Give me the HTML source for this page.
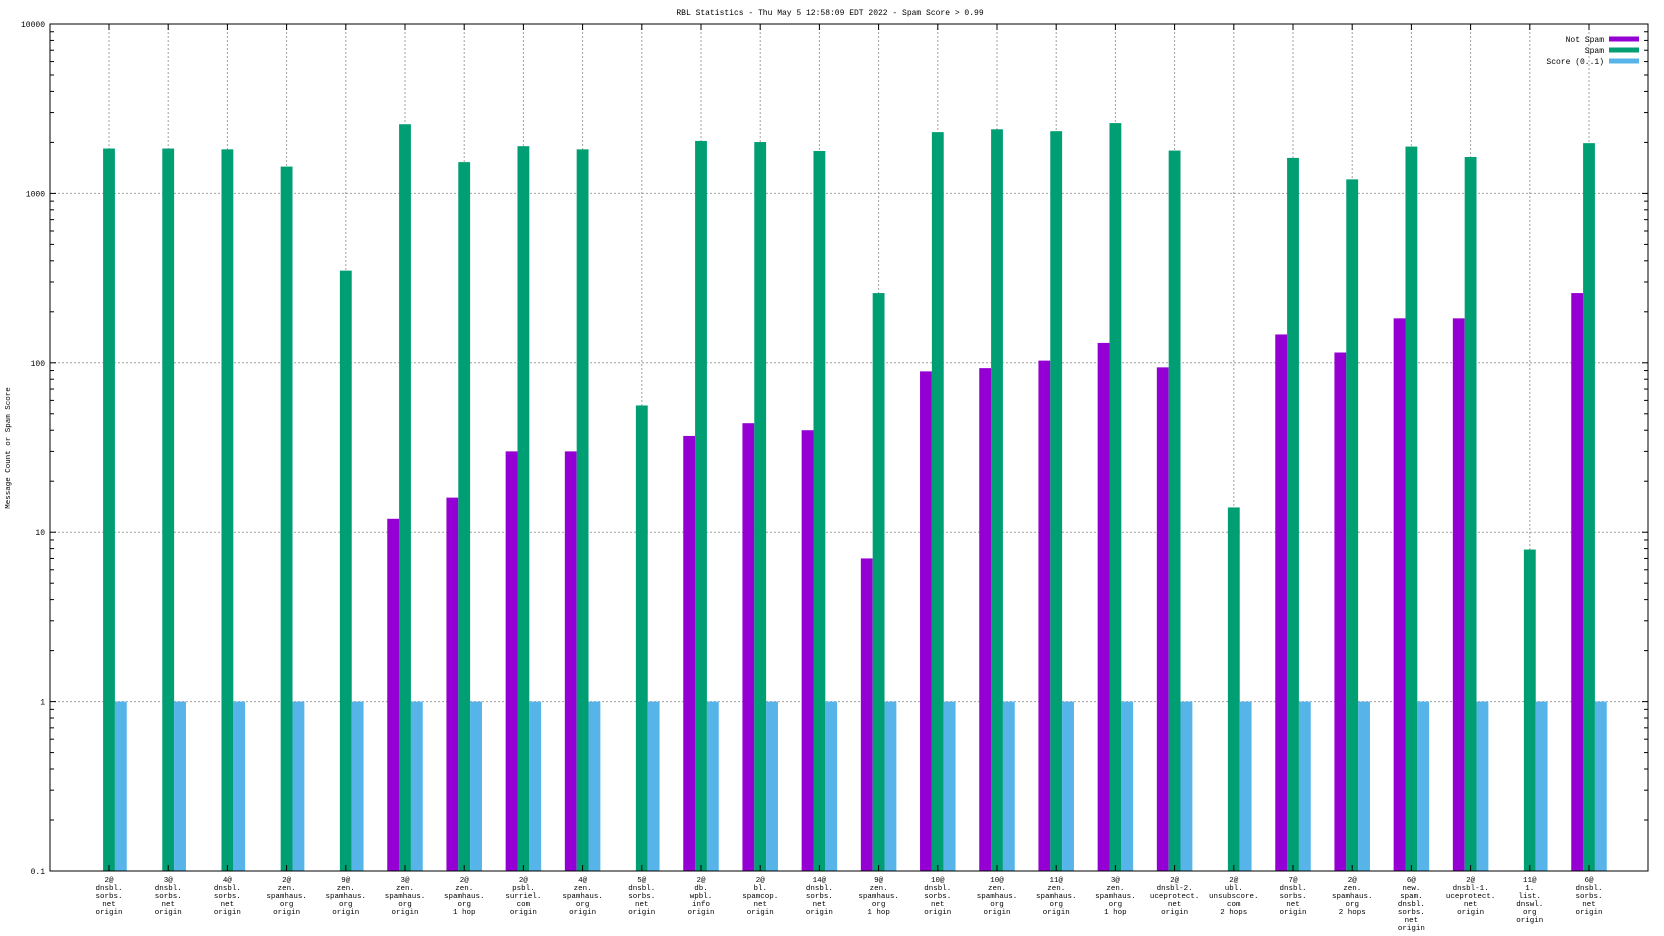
<!DOCTYPE html>
<html><head><meta charset="utf-8"><style>
html,body{margin:0;padding:0;background:#fff;}
svg{display:block;font-family:"Liberation Mono","DejaVu Sans Mono",monospace;}
</style></head><body>
<svg id="chart" width="1664" height="936" viewBox="0 0 1664 936" xmlns="http://www.w3.org/2000/svg">
<text x="830" y="15" font-size="8" text-anchor="middle">RBL Statistics - Thu May  5 12:58:09 EDT 2022 - Spam Score &gt; 0.99</text>
<text transform="translate(10,448) rotate(-90)" font-size="7.5" text-anchor="middle">Message Count or Spam Score</text>
<g id="grid"></g><g id="bars"></g><g id="axes"></g><g id="legend"></g>
</svg>
<script>
const categories = [
 ["2@","dnsbl.","sorbs.","net","origin"],["3@","dnsbl.","sorbs.","net","origin"],["4@","dnsbl.","sorbs.","net","origin"],
 ["2@","zen.","spamhaus.","org","origin"],["9@","zen.","spamhaus.","org","origin"],["3@","zen.","spamhaus.","org","origin"],
 ["2@","zen.","spamhaus.","org","1 hop"],["2@","psbl.","surriel.","com","origin"],["4@","zen.","spamhaus.","org","origin"],
 ["5@","dnsbl.","sorbs.","net","origin"],["2@","db.","wpbl.","info","origin"],["2@","bl.","spamcop.","net","origin"],
 ["14@","dnsbl.","sorbs.","net","origin"],["9@","zen.","spamhaus.","org","1 hop"],["10@","dnsbl.","sorbs.","net","origin"],
 ["10@","zen.","spamhaus.","org","origin"],["11@","zen.","spamhaus.","org","origin"],["3@","zen.","spamhaus.","org","1 hop"],
 ["2@","dnsbl-2.","uceprotect.","net","origin"],["2@","ubl.","unsubscore.","com","2 hops"],["7@","dnsbl.","sorbs.","net","origin"],
 ["2@","zen.","spamhaus.","org","2 hops"],["6@","new.","spam.","dnsbl.","sorbs.","net","origin"],["2@","dnsbl-1.","uceprotect.","net","origin"],
 ["11@","1.","list.","dnswl.","org","origin"],["6@","dnsbl.","sorbs.","net","origin"]
];
const notSpam = [0,0,0,0,0,12,16,30,30,0,37,44,40,7,89,93,103,131,94,0,147,115,183,183,0,258];
const spam = [1840,1840,1820,1440,350,2560,1530,1900,1820,56,2040,2010,1780,258,2300,2390,2330,2600,1790,14,1620,1210,1890,1640,7.9,1980];
const score = [1,1,1,1,1,1,1,1,1,1,1,1,1,1,1,1,1,1,1,1,1,1,1,1,1,1];
const yTicks = [0.1,1,10,100,1000,10000];
const yTickLabels = ["0.1","1","10","100","1000","10000"];

const NS="http://www.w3.org/2000/svg";
const L=50,R=1648,T=24,B=871;
const x0=109, step=59.2;
function xPos(i){return x0+i*step;}
function yPos(v){return B-(Math.log10(v)+1)/5*(B-T);}
function mk(tag,attrs,parent){const e=document.createElementNS(NS,tag);for(const k in attrs)e.setAttribute(k,attrs[k]);parent.appendChild(e);return e;}
const grid=document.getElementById('grid'),bars=document.getElementById('bars'),axes=document.getElementById('axes'),legend=document.getElementById('legend');
const bw=step*0.2;
yTicks.forEach((v,i)=>{
  const y=yPos(v);
  if(i>0&&i<yTicks.length-1){const g=mk('line',{x1:L,x2:R,y1:y,y2:y,stroke:'#a0a0a0','stroke-dasharray':'2,2','stroke-width':1},grid);
  
  }
  const t=mk('text',{x:L-5,y:y+3,'font-size':8,'text-anchor':'end'},axes);t.textContent=yTickLabels[i];
  
  
  mk('line',{x1:L,x2:L+6,y1:y,y2:y,stroke:'#000'},axes);mk('line',{x1:R,x2:R-6,y1:y,y2:y,stroke:'#000'},axes);
  if(i<yTicks.length-1){for(let m=2;m<10;m++){const ym=yPos(v*m);mk('line',{x1:L,x2:L+4,y1:ym,y2:ym,stroke:'#000'},axes);mk('line',{x1:R,x2:R-4,y1:ym,y2:ym,stroke:'#000'},axes);}}
});
const series=[[notSpam,'#9400d3',-1,'bar-not-spam'],[spam,'#009e73',0,'bar-spam'],[score,'#56b4e9',1,'bar-score']];
categories.forEach((c,i)=>{
  const cx=xPos(i);
  const g=mk('line',{x1:cx,x2:cx,y1:T,y2:B,stroke:'#a0a0a0','stroke-dasharray':'2,2'},grid);
  
  
  mk('line',{x1:cx,x2:cx,y1:T,y2:T+6,stroke:'#000'},axes);mk('line',{x1:cx,x2:cx,y1:B,y2:B-6,stroke:'#000'},axes);
  series.forEach(([arr,col,off,name])=>{
    const v=arr[i]; if(!(v>0.1))return;
    const y=yPos(v);
    const r=mk('rect',{x:cx+off*bw-bw/2,y:y,width:bw,height:B-y,fill:col},bars);
    
    
  });
  const t=mk('text',{x:cx,'font-size':7.5,'text-anchor':'middle'},axes);
  
  
  c.forEach((s,j)=>{const ts=mk('tspan',{x:cx,y:882+j*8},t);ts.textContent=s;});
});
const fr=mk('rect',{x:L,y:T,width:R-L,height:B-T,fill:'none',stroke:'#000','stroke-width':1},axes);


[['Not Spam','#9400d3'],['Spam','#009e73'],['Score (0..1)','#56b4e9']].forEach(([lab,col],i)=>{
  const y=39+i*11;
  const t=mk('text',{x:1604,y:y+3,'font-size':8,'text-anchor':'end'},legend);t.textContent=lab;
  
  
  const s=mk('rect',{x:1609,y:y-2.5,width:30,height:5,fill:col},legend);
  
  
});
</script>
</body></html>
